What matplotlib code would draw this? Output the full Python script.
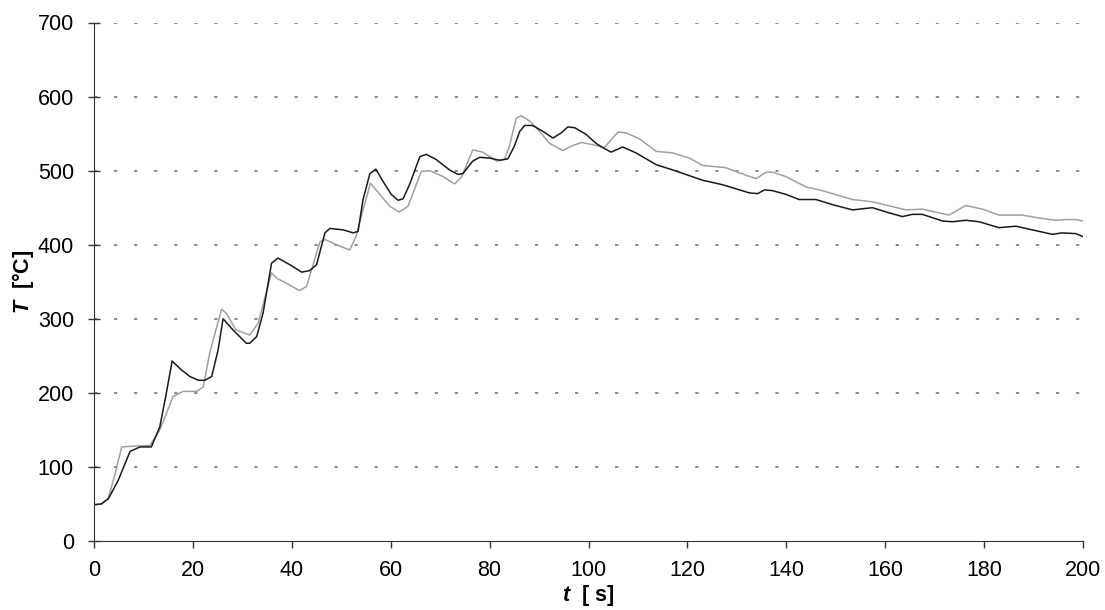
import matplotlib.pyplot as plt

plt.rcParams['font.family'] = ['Liberation Sans', 'DejaVu Sans']
plt.rcParams['mathtext.fontset'] = 'custom'
plt.rcParams['mathtext.it'] = 'Liberation Sans:italic:bold'
plt.rcParams['mathtext.rm'] = 'Liberation Sans:bold'

# czujnik 1 (czarna linia)
t_black = [0, 1.5, 2.9, 4.9, 6.0, 7.3, 9.3, 11.6, 13.3, 14.5, 15.8, 17.5, 19.4, 21.1,
           22.4, 23.8, 25.1, 26.1, 28.1, 30.8, 31.5, 32.9, 34.2, 35.9, 37.2, 39.6, 42.0,
           43.6, 45.0, 46.7, 47.7, 50.4, 52.4, 53.4, 54.4, 55.8, 57.0, 58.4, 60.1, 61.5,
           62.5, 63.8, 65.9, 67.2, 69.2, 71.9, 73.6, 74.6, 76.6, 78.0, 80.0, 82.0, 83.7,
           85.0, 86.1, 87.1, 88.7, 90.8, 92.8, 94.5, 95.8, 97.2, 99.5, 101.5, 102.9, 104.6,
           106.9, 109.6, 113.7, 117.0, 123.1, 127.1, 132.5, 134.2, 135.6, 137.2, 139.9,
           142.6, 146.0, 149.4, 153.4, 157.4, 160.8, 163.5, 165.5, 167.5, 171.6, 173.6,
           176.3, 179.0, 183.0, 186.4, 189.8, 193.8, 195.8, 198.5, 200.0]
T_black = [49, 50, 57, 82, 100, 121, 127, 127, 154, 195, 243, 232, 222, 217,
           217, 222, 258, 300, 285, 267, 267, 276, 308, 375, 382, 373, 363,
           365, 373, 416, 422, 420, 416, 418, 461, 496, 502, 486, 468, 460,
           462, 481, 519, 522, 515, 501, 495, 496, 513, 518, 517, 514, 516,
           533, 553, 561, 561, 553, 544, 551, 559, 558, 549, 537, 531, 525,
           532, 524, 508, 501, 487, 481, 470, 469, 474, 473, 468,
           461, 461, 454, 447, 450, 443, 438, 441, 441, 432, 431,
           433, 431, 423, 425, 420, 414, 416, 415, 411]

# czujnik 2 (szara linia)
t_gray = [0, 1.5, 2.9, 4.2, 5.6, 7.9, 11.3, 13.3, 16.0, 18.0, 20.7, 22.1, 23.4, 25.8,
          26.8, 28.7, 31.5, 33.2, 35.9, 36.9, 38.9, 41.6, 43.0, 45.7, 46.7, 49.0, 51.7,
          53.0, 54.4, 55.9, 57.8, 59.8, 61.7, 63.5, 66.2, 67.9, 70.6, 72.9, 74.3, 76.6,
          78.6, 81.4, 83.0, 84.0, 85.4, 86.4, 88.1, 90.1, 92.1, 94.8, 96.5, 98.5, 100.9,
          103.2, 104.6, 106.0, 107.6, 110.3, 113.7, 117.0, 120.4, 123.1, 127.8, 130.5,
          133.9, 135.9, 137.2, 139.9, 144.0, 147.3, 153.4, 157.4, 164.2, 167.5, 172.9,
          176.3, 179.7, 183.0, 187.7, 191.1, 194.5, 196.5, 198.5, 200.0]
T_gray = [49, 50, 58, 89, 127, 128, 129, 150, 195, 202, 202, 208, 254, 313,
          307, 285, 278, 294, 362, 355, 348, 338, 344, 404, 407, 400, 393,
          411, 447, 483, 468, 452, 444, 452, 499, 500, 492, 482, 491, 528,
          525, 513, 515, 533, 571, 574, 567, 553, 537, 527, 533, 538, 535,
          531, 542, 552, 551, 543, 526, 524, 517, 507, 504, 497,
          489, 498, 498, 492, 478, 473, 461, 458, 447, 448, 440,
          453, 448, 440, 440, 436, 433, 434, 434, 432]

y_ticks = [0, 100, 200, 300, 400, 500, 600, 700]
x_ticks = [0, 20, 40, 60, 80, 100, 120, 140, 160, 180, 200]

fig = plt.figure(figsize=(11.05, 6.10), dpi=100)
ax = fig.add_axes([94 / 1105, 1 - 541 / 610, (1083 - 94) / 1105, (541 - 22.5) / 610])

ax.plot(t_gray, T_gray, color='#a0a0a0', lw=1.1, solid_joinstyle='round')
ax.plot(t_black, T_black, color='#1a1a1a', lw=1.1, solid_joinstyle='round')

ax.set_xlim(0, 200)
ax.set_ylim(0, 700)
ax.set_xticks(x_ticks)
ax.set_yticks(y_ticks)

# siatka pozioma kropkowana
for y in y_ticks[1:]:
    ax.axhline(y, color='#808080', lw=1.3, linestyle=(0, (1.8, 9.3)), zorder=0)

ax.spines['top'].set_visible(False)
ax.spines['right'].set_visible(False)
ax.spines['left'].set_color('#333333')
ax.spines['bottom'].set_color('#333333')
ax.tick_params(axis='both', labelsize=15.5, color='#333333', length=5, width=1)
ax.tick_params(axis='x', pad=9)
ax.tick_params(axis='y', direction='inout', length=9, pad=10)

ax.set_xlabel(r'$\mathit{t}$  [ s]', fontsize=15.5, fontweight='bold', labelpad=1)
ax.set_ylabel(r'$\mathit{T}$  [°C]', fontsize=15.5, fontweight='bold', labelpad=1)

fig.savefig('out.png', dpi=100)
